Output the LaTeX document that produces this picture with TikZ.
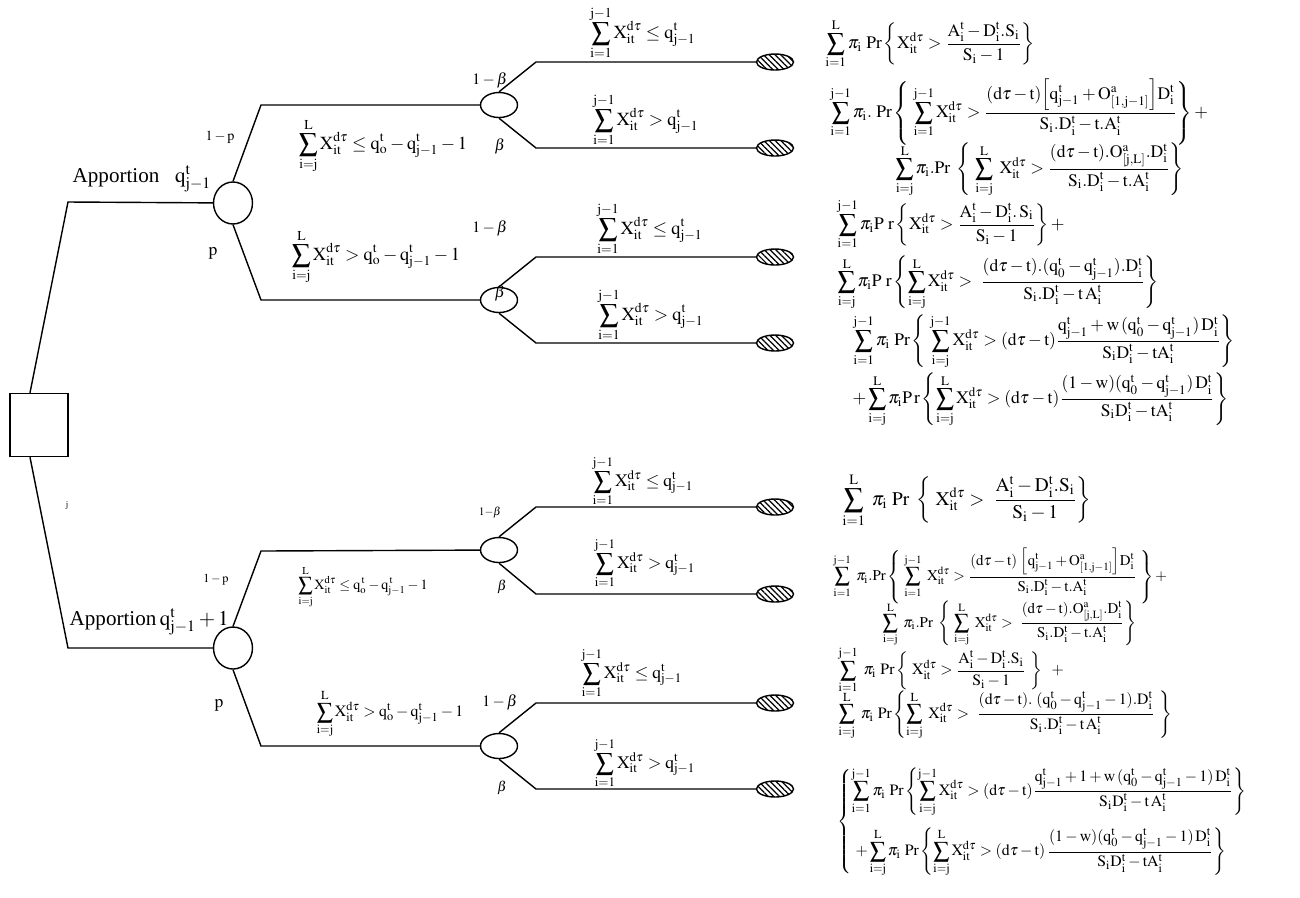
\documentclass[tikz,border=0pt]{standalone}
\usepackage{amsmath}
\usepackage{mathptmx}
\usepackage{fontspec}
\setmainfont{Liberation Serif}
\usetikzlibrary{shapes.geometric,patterns.meta}
\newcommand{\fs}[1]{\fontsize{#1}{#1}\selectfont}
\newcommand{\eqn}[1]{$\displaystyle\mathrm{#1}$}

\begin{document}
\begin{tikzpicture}[x=0.02cm, y=-0.02cm, line width=0.8pt,
  decision/.style={draw, minimum width=1.16cm, minimum height=1.26cm, inner sep=0pt},
  chance/.style={draw, ellipse, minimum width=0.78cm, minimum height=0.84cm, inner sep=0pt},
  event/.style={draw, ellipse, minimum width=0.74cm, minimum height=0.5cm, inner sep=0pt},
  leaf/.style={draw, ellipse, minimum width=0.74cm, minimum height=0.32cm, inner sep=0pt,
               pattern={Lines[angle=-45,distance=2.3pt,line width=0.7pt]}},
  prob/.style={font=\fs{9}, inner sep=0pt},
  cond/.style={font=\fs{10.5}, inner sep=0pt},
  payoff/.style={font=\fs{10}, inner sep=0pt, anchor=west}
]
  \useasboundingbox (0,0) rectangle (1300,897);

  % Decision node
  \node[decision] (sq) at (39,425) {};

  % Upper tree: apportion q
  \node[chance] (c1) at (233,203) {};
  \node[event] (e1) at (499,105) {};
  \node[event] (e2) at (499,300) {};
  \node[leaf] (l1) at (775,62) {};
  \node[leaf] (l2) at (775,148) {};
  \node[leaf] (l3) at (775,257) {};
  \node[leaf] (l4) at (775,343) {};
  \coordinate (ka) at (68,202);
  \coordinate (kb) at (261,105);
  \coordinate (kc) at (261,300);
  \coordinate (k1) at (536,62);
  \coordinate (k2) at (536,148);
  \coordinate (k3) at (536,257);
  \coordinate (k4) at (536,343);

  \draw ([xshift=-0.18cm]sq.north) -- (ka) -- (c1);
  \draw (c1.north) -- (kb) -- (e1);
  \draw (c1.south) -- (kc) -- (e2);
  \draw (e1.north) -- (k1) -- (l1);
  \draw (e1.south) -- (k2) -- (l2);
  \draw (e2.north) -- (k3) -- (l3);
  \draw (e2.south) -- (k4) -- (l4);

  \node[font=\fs{12}, inner sep=0pt, anchor=base west] (ap1) at (72,182)
    {Apportion\enspace\ $\mathrm{q_{j-1}^{t}}$};
  \node[prob, font=\fs{8}] (pa1) at (220,137) {$\mathrm{1-p}$};
  \node[prob, font=\fs{10}] (pb1) at (213,253) {$\mathrm{p}$};
  \node[cond] (sa1) at (383,146) {\eqn{\sum_{i=j}^{L}X_{it}^{d\tau}\le q_{o}^{t}-q_{j-1}^{t}-1}};
  \node[cond] (sb1) at (376,257) {\eqn{\sum_{i=j}^{L}X_{it}^{d\tau}>q_{o}^{t}-q_{j-1}^{t}-1}};
  \node[prob] (ba1) at (490,80) {$\mathrm{1-\beta}$};
  \node[prob] (bb1) at (500,146) {$\beta$};
  \node[prob] (ba2) at (490,228) {$\mathrm{1-\beta}$};
  \node[prob] (bb2) at (500,293) {$\beta$};
  \node[cond] (t1) at (643,33) {\eqn{\sum_{i=1}^{j-1}X_{it}^{d\tau}\le q_{j-1}^{t}}};
  \node[cond] (t2) at (646,120) {\eqn{\sum_{i=1}^{j-1}X_{it}^{d\tau}>q_{j-1}^{t}}};
  \node[cond] (t3) at (650,229) {\eqn{\sum_{i=1}^{j-1}X_{it}^{d\tau}\le q_{j-1}^{t}}};
  \node[cond] (t4) at (651,315) {\eqn{\sum_{i=1}^{j-1}X_{it}^{d\tau}>q_{j-1}^{t}}};

  % Upper payoffs
  \node[payoff] (f1) at (825,44) {\eqn{\sum_{i=1}^{L}\pi_{i}\ Pr\left\{X_{it}^{d\tau}>\frac{A_{i}^{t}-D_{i}^{t}.S_{i}}{S_{i}-1}\right\}}};
  \node[payoff] (f2) at (830,112) {\eqn{\sum_{i=1}^{j-1}\pi_{i}.\ Pr\left\{\ \sum_{i=1}^{j-1}X_{it}^{d\tau}>\frac{(d\tau-t)\Big[q_{j-1}^{t}+O_{[1,j-1]}^{a}\Big]D_{i}^{t}}{S_{i}.D_{i}^{t}-t.A_{i}^{t}}\right\}+}};
  \node[payoff] (f3) at (895,170) {\eqn{\sum_{i=j}^{L}\pi_{i}.Pr\ \left\{\ \sum_{i=j}^{L}\ X_{it}^{d\tau}>\frac{(d\tau-t).O_{[j,L]}^{a}.D_{i}^{t}}{S_{i}.D_{i}^{t}-t.A_{i}^{t}}\right\}}};
  \node[payoff] (f4) at (837,224) {\eqn{\sum_{i=1}^{j-1}\pi_{i}P\ r\left\{X_{it}^{d\tau}>\frac{A_{i}^{t}-D_{i}^{t}.\,S_{i}}{S_{i}-1}\right\}+}};
  \node[payoff] (f5) at (837,283) {\eqn{\sum_{i=j}^{L}\pi_{i}P\ r\left\{\sum_{i=j}^{L}X_{it}^{d\tau}>\ \frac{(d\tau-t).(q_{0}^{t}-q_{j-1}^{t}).D_{i}^{t}}{S_{i}.D_{i}^{t}-t\,A_{i}^{t}}\right\}}};
  \node[payoff] (f6) at (853,342) {\eqn{\sum_{i=1}^{j-1}\pi_{i}\ Pr\left\{\ \sum_{i=j}^{j-1}X_{it}^{d\tau}>(d\tau-t)\frac{q_{j-1}^{t}+w\,(q_{0}^{t}-q_{j-1}^{t})\,D_{i}^{t}}{S_{i}D_{i}^{t}-tA_{i}^{t}}\right\}}};
  \node[payoff] (f7) at (852,400) {\eqn{+\sum_{i=j}^{L}\pi_{i}P\,r\left\{\sum_{i=j}^{L}X_{it}^{d\tau}>(d\tau-t)\frac{(1-w)(q_{0}^{t}-q_{j-1}^{t})\,D_{i}^{t}}{S_{i}D_{i}^{t}-tA_{i}^{t}}\right\}}};

  % Lower tree: apportion q+1
  \node[chance] (c2) at (233,648) {};
  \node[event] (e3) at (499,550) {};
  \node[event] (e4) at (499,746) {};
  \node[leaf] (l5) at (775,507) {};
  \node[leaf] (l6) at (775,594) {};
  \node[leaf] (l7) at (775,703) {};
  \node[leaf] (l8) at (775,789) {};
  \coordinate (kd) at (68,648);
  \coordinate (ke) at (261,551);
  \coordinate (kf) at (261,746);
  \coordinate (k5) at (536,507);
  \coordinate (k6) at (536,594);
  \coordinate (k7) at (536,703);
  \coordinate (k8) at (536,789);

  \draw ([xshift=-0.18cm]sq.south) -- (kd) -- (c2);
  \draw (c2.north) -- (ke) -- (e3);
  \draw (c2.south) -- (kf) -- (e4);
  \draw (e3.north) -- (k5) -- (l5);
  \draw (e3.south) -- (k6) -- (l6);
  \draw (e4.north) -- (k7) -- (l7);
  \draw (e4.south) -- (k8) -- (l8);

  \node[font=\fs{5}, inner sep=0pt] (jj) at (67,506) {j};
  \node[font=\fs{12}, inner sep=0pt, anchor=base west] (ap2) at (69,625)
    {Apportion\,$\mathrm{q_{j-1}^{t}+1}$};
  \node[prob, font=\fs{7}] (pa2) at (216,580) {$\mathrm{1-p}$};
  \node[prob, font=\fs{10}] (pb2) at (219,705) {$\mathrm{p}$};
  \node[cond, font=\fs{8}] (sa2) at (363,587) {\eqn{\sum_{i=j}^{L}X_{it}^{d\tau}\le q_{o}^{\,t}-q_{j-1}^{\,t}-1}};
  \node[cond, font=\fs{9}] (sb2) at (390,714) {\eqn{\sum_{i=j}^{L}X_{it}^{d\tau}>q_{o}^{t}-q_{j-1}^{t}-1}};
  \node[prob, font=\fs{6.5}] (ba3) at (490,513) {$\mathrm{1{-}\beta}$};
  \node[prob, font=\fs{8}] (bb3) at (502,587) {$\beta$};
  \node[prob] (ba4) at (500,702) {$\mathrm{1-\beta}$};
  \node[prob, font=\fs{8}] (bb4) at (502,788) {$\beta$};
  \node[cond, font=\fs{10}] (t5) at (643,481) {\eqn{\sum_{i=1}^{j-1}X_{it}^{d\tau}\le q_{j-1}^{t}}};
  \node[cond, font=\fs{10}] (t6) at (645,563) {\eqn{\sum_{i=1}^{j-1}X_{it}^{d\tau}>q_{j-1}^{t}}};
  \node[cond, font=\fs{10}] (t7) at (632,673) {\eqn{\sum_{i=1}^{j-1}X_{it}^{d\tau}\le q_{j-1}^{t}}};
  \node[cond, font=\fs{10}] (t8) at (645,763) {\eqn{\sum_{i=1}^{j-1}X_{it}^{d\tau}>q_{j-1}^{t}}};

  % Lower payoffs
  \node[payoff, font=\fs{11}] (g1) at (842,500) {\eqn{\sum_{i=1}^{L}\ \pi_{i}\ Pr\ \left\{\ X_{it}^{d\tau}>\ \frac{A_{i}^{t}-D_{i}^{t}.S_{i}}{S_{i}-1}\right\}}};
  \node[payoff, font=\fs{8.5}] (g2) at (833,576) {\eqn{\sum_{i=1}^{j-1}\ \pi_{i}.Pr\left\{\ \sum_{i=1}^{j-1}\ X_{it}^{d\tau}>\frac{(d\tau-t)\ \Big[q_{j-1}^{t}+O_{[1,j-1]}^{a}\Big]D_{i}^{t}}{S_{i}.D_{i}^{t}-t.A_{i}^{t}}\ \right\}+}};
  \node[payoff, font=\fs{8.5}] (g3) at (882,624) {\eqn{\sum_{i=j}^{L}\ \pi_{i}.Pr\ \left\{\ \sum_{i=j}^{L}\ X_{it}^{d\tau}>\ \frac{(d\tau-t).O_{[j,L]}^{a}.D_{i}^{t}}{S_{i}.D_{i}^{t}-t.A_{i}^{t}}\right\}}};
  \node[payoff, font=\fs{9}] (g4) at (838,670) {\eqn{\sum_{i=1}^{j-1}\ \pi_{i}\ Pr\left\{\ X_{it}^{d\tau}>\frac{A_{i}^{t}-D_{i}^{t}.S_{i}}{S_{i}-1}\ \right\}\ \ +}};
  \node[payoff, font=\fs{9}] (g5) at (838,715) {\eqn{\sum_{i=j}^{L}\ \pi_{i}\ Pr\left\{\sum_{i=j}^{L}\ X_{it}^{d\tau}>\ \frac{(d\tau-t).\ (q_{0}^{t}-q_{j-1}^{t}-1).D_{i}^{t}}{S_{i}.D_{i}^{t}-t\,A_{i}^{t}}\ \right\}}};
  \node[payoff, font=\fs{9}] (g6) at (837,822) {$\left\{\begin{array}{@{}l@{}}
    \mathrm{\displaystyle\sum_{i=1}^{j-1}\pi_{i}\ Pr\left\{\sum_{i=j}^{j-1}X_{it}^{d\tau}>(d\tau-t)\frac{q_{j-1}^{t}+1+w\,(q_{0}^{t}-q_{j-1}^{t}-1)\,D_{i}^{t}}{S_{i}D_{i}^{t}-t\,A_{i}^{t}}\right\}}\\[16pt]
    \mathrm{\displaystyle\ +\sum_{i=j}^{L}\pi_{i}\ Pr\left\{\sum_{i=j}^{L}X_{it}^{d\tau}>(d\tau-t)\,\frac{(1-w)(q_{0}^{t}-q_{j-1}^{t}-1)\,D_{i}^{t}}{S_{i}D_{i}^{t}-tA_{i}^{t}}\right\}}
  \end{array}\right.$};
\end{tikzpicture}
\end{document}
